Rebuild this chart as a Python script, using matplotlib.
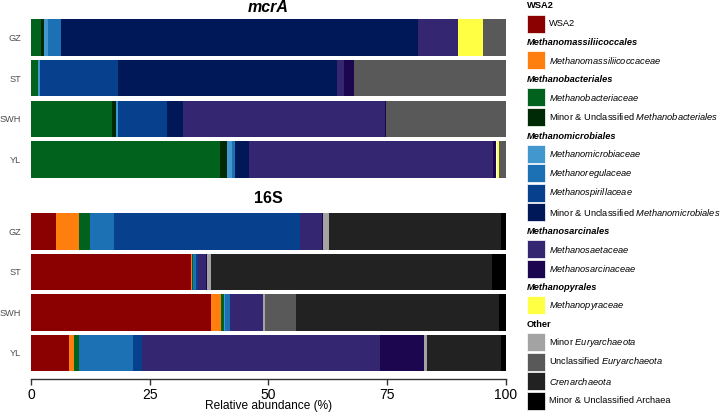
import matplotlib
matplotlib.use("Agg")
import matplotlib.pyplot as plt
from matplotlib.patches import Rectangle
import numpy as np

plt.rcParams['font.family'] = ['Liberation Sans', 'DejaVu Sans']
plt.rcParams['mathtext.fontset'] = 'custom'
plt.rcParams['mathtext.rm'] = 'Liberation Sans'
plt.rcParams['mathtext.it'] = 'Liberation Sans:italic'
plt.rcParams['mathtext.bf'] = 'Liberation Sans:bold'

# ---------------- data ----------------
samples = ["GZ", "ST", "SWH", "YL"]

taxa = ["WSA2", "Methanomassiliicoccaceae", "Methanobacteriaceae",
        "Minor & Unclassified Methanobacteriales", "Methanomicrobiaceae",
        "Methanoregulaceae", "Methanospirillaceae",
        "Minor & Unclassified Methanomicrobiales", "Methanosaetaceae",
        "Methanosarcinaceae", "Methanopyraceae", "Minor Euryarchaeota",
        "Unclassified Euryarchaeota", "Crenarchaeota",
        "Minor & Unclassified Archaea"]

colors = ["#8b0000", "#ff7f0e", "#00621c", "#002a06", "#4397cf",
          "#1c70b4", "#07418e", "#001858", "#352672", "#1d0650",
          "#ffff44", "#a3a3a3", "#595959", "#222222", "#000000"]

# relative abundance (%) per taxon, in the order of `taxa`
mcra_gz = [0, 0, 2.2, 0.6, 0.8, 2.8, 0, 75.0, 8.6, 0, 5.1, 0, 4.9, 0, 0]
mcra_st = [0, 0, 1.5, 0, 0.35, 0, 16.55, 46.1, 1.3, 2.2, 0, 0, 32.0, 0, 0]
mcra_swh = [0, 0, 17.0, 1.0, 0.4, 0, 10.2, 3.4, 42.5, 0.3, 0, 0, 25.2, 0, 0]
mcra_yl = [0, 0, 39.7, 1.6, 1.0, 0.6, 0, 3.0, 51.4, 0.7, 0.6, 0, 1.4, 0, 0]

s16_gz = [5.2, 4.9, 2.3, 0, 0, 5.1, 39.1, 0, 4.7, 0.2, 0, 1.2, 0, 36.2, 1.1]
s16_st = [33.7, 0.2, 0.3, 0, 0, 0.6, 0.3, 0, 1.8, 0.2, 0, 0.7, 0, 59.3, 2.9]
s16_swh = [38.0, 2.1, 0.5, 0, 0.3, 1.0, 0, 0, 6.9, 0, 0, 0.4, 6.6, 42.8, 1.4]
s16_yl = [8.0, 1.0, 1.2, 0, 0, 11.3, 1.8, 0, 50.2, 9.3, 0, 0.6, 0, 15.5, 1.1]

xticks = [0, 25, 50, 75, 100]

# legend groups: (order title, entry labels, indices into taxa/colors)
legend_groups = [
    ("WSA2", ["WSA2"], [0]),
    ("Methanomassiliicoccales", [r"$\mathit{Methanomassiliicoccaceae}$"], [1]),
    ("Methanobacteriales", [r"$\mathit{Methanobacteriaceae}$",
                            r"Minor & Unclassified $\mathit{Methanobacteriales}$"], [2, 3]),
    ("Methanomicrobiales", [r"$\mathit{Methanomicrobiaceae}$",
                            r"$\mathit{Methanoregulaceae}$",
                            r"$\mathit{Methanospirillaceae}$",
                            r"Minor & Unclassified $\mathit{Methanomicrobiales}$"], [4, 5, 6, 7]),
    ("Methanosarcinales", [r"$\mathit{Methanosaetaceae}$",
                           r"$\mathit{Methanosarcinaceae}$"], [8, 9]),
    ("Methanopyrales", [r"$\mathit{Methanopyraceae}$"], [10]),
    ("Other", [r"Minor $\mathit{Euryarchaeota}$",
               r"Unclassified $\mathit{Euryarchaeota}$",
               r"$\mathit{Crenarchaeota}$",
               "Minor & Unclassified Archaea"], [11, 12, 13, 14]),
]

# ---------------- figure ----------------
W, H = 720, 412
fig = plt.figure(figsize=(W / 100, H / 100), dpi=100)

def px_rect(x0, y0, x1, y1):
    return [x0 / W, 1 - y1 / H, (x1 - x0) / W, (y1 - y0) / H]

ax1 = fig.add_axes(px_rect(31, 19.3, 506, 177.7))
ax2 = fig.add_axes(px_rect(31, 213.3, 506, 371))

def stacked(ax, rows, title, italic, tpad):
    data = np.array(rows)
    y = np.arange(len(samples))
    left = np.zeros(len(samples))
    for j in range(len(taxa)):
        w = data[:, j]
        ax.barh(y, w, left=left, height=0.9, color=colors[j], linewidth=0)
        left += w
    ax.set_xlim(0, 100)
    ax.set_ylim(3.45, -0.45)
    ax.set_yticks(y)
    ax.set_yticklabels(samples, fontsize=6.6, color="#4d4d4d")
    ax.tick_params(axis="y", length=0, pad=7)
    for s in ax.spines.values():
        s.set_visible(False)
    ax.set_title(title, fontsize=11.5, fontweight="bold",
                 style="italic" if italic else "normal", pad=tpad)

stacked(ax1, [mcra_gz, mcra_st, mcra_swh, mcra_yl], "mcrA", True, 5.5)
stacked(ax2, [s16_gz, s16_st, s16_swh, s16_yl], "16S", False, 7.5)

ax1.set_xticks([])
ax2.set_xticks(xticks)
ax2.set_xticklabels([str(t) for t in xticks], fontsize=7, color="#4d4d4d")
ax2.spines["bottom"].set_visible(True)
ax2.spines["bottom"].set_position(("outward", 6))
ax2.spines["bottom"].set_color("#333333")
ax2.spines["bottom"].set_linewidth(1.0)
ax2.tick_params(axis="x", length=4, width=1.0, color="#333333", pad=2)
ax2.set_xlabel("Relative abundance (%)", fontsize=8.6, labelpad=-1)

# ---------------- legend (drawn by hand) ----------------
ycur = 6.0
for title, labels, idx in legend_groups:
    fig.text(527 / W, 1 - ycur / H, title, fontsize=6.7, fontweight="bold",
             style="normal" if title in ("WSA2", "Other") else "italic",
             va="center", ha="left")
    ycur += 17.5
    for lab, k in zip(labels, idx):
        fig.patches.append(Rectangle(((527.3) / W, 1 - (ycur + 9) / H),
                                     18.2 / W, 18 / H, transform=fig.transFigure,
                                     facecolor=colors[k], edgecolor="white",
                                     linewidth=0.5))
        fig.text(549 / W, 1 - ycur / H, lab, fontsize=6.7, va="center", ha="left")
        ycur += 19.45

fig.savefig("out.png", dpi=100)
